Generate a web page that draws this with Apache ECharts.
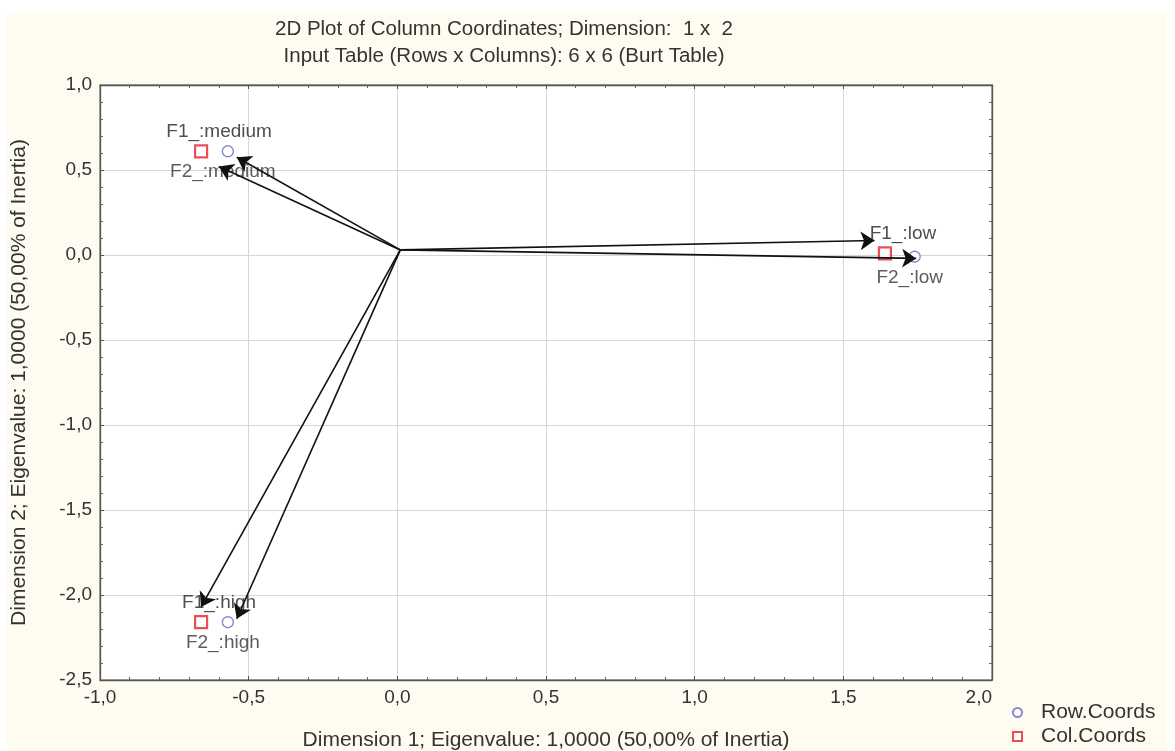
<!DOCTYPE html>
<html><head><meta charset="utf-8">
<script src="https://cdn.jsdelivr.net/npm/echarts@6/dist/echarts.min.js"></script>
<style>html,body{margin:0;padding:0;background:#fff}#c{width:1175px;height:751px}</style>
</head><body><div id="c"></div>
<script>
// Data
const colNames = ['F1_:medium', 'F1_:low', 'F1_:high'];
const colX = [-0.66, 1.64, -0.66];
const colY = [0.61, 0.01, -2.16];
const rowNames = ['F2_:medium', 'F2_:low', 'F2_:high'];
const rowX = [-0.57, 1.74, -0.57];
const rowY = [0.61, -0.01, -2.16];
const arrowOrigin = [0.01, 0.03];
const arrowEndX = [-0.54, -0.60, 1.605, 1.745, -0.66, -0.54];
const arrowEndY = [0.575, 0.52, 0.085, -0.02, -2.07, -2.14];
const xTicks = [-1.0, -0.5, 0.0, 0.5, 1.0, 1.5, 2.0];
const yTicks = [-2.5, -2.0, -1.5, -1.0, -0.5, 0.0, 0.5, 1.0];
const legendNames = ['Row.Coords', 'Col.Coords'];

const fmt = v => v.toFixed(1).replace('.', ',');
const FONT = '"Liberation Sans", Arial, sans-serif';
const chart = echarts.init(document.getElementById('c'), null, {renderer: 'canvas'});

const axisCommon = {
  type: 'value',
  axisLine: {show: true, onZero: false, lineStyle: {color: '#555', width: 1.3}},
  axisTick: {show: true, inside: true, length: 4, lineStyle: {color: '#555'}},
  minorTick: {show: true, splitNumber: 5, length: 3, lineStyle: {color: '#666'}},
  axisLabel: {color: '#333', fontSize: 19, fontFamily: FONT, formatter: fmt, margin: 8},
  nameTextStyle: {color: '#333', fontSize: 21, fontFamily: FONT}
};

const legendCommon = {
  orient: 'vertical', left: 1012, padding: 0, itemWidth: 9, itemHeight: 9,
  textStyle: {color: '#333', fontSize: 21, fontFamily: FONT, padding: [0, 0, 0, 14]}
};

chart.setOption({
  backgroundColor: '#fff',
  animation: false,
  graphic: [{type: 'rect', z: -10, shape: {x: 7, y: 12, width: 1160, height: 739}, style: {fill: '#fefbf0'}}],
  title: {
    text: '2D Plot of Column Coordinates; Dimension:  1 x  2\nInput Table (Rows x Columns): 6 x 6 (Burt Table)',
    left: 499, top: 11, textAlign: 'center',
    textStyle: {color: '#333', fontSize: 20.5, fontWeight: 'normal', fontFamily: FONT, lineHeight: 27}
  },
  legend: [
    Object.assign({}, legendCommon, {top: 702, data: [legendNames[0]]}),
    Object.assign({}, legendCommon, {top: 726, data: [legendNames[1]]})
  ],
  grid: {left: 100, right: 183, top: 85, bottom: 71, outerBoundsMode: 'none', containLabel: false,
    show: true, backgroundColor: '#fff', borderColor: '#555', borderWidth: 1},
  xAxis: [
    Object.assign({}, axisCommon, {
      min: xTicks[0], max: xTicks[xTicks.length - 1], interval: 0.5, position: 'bottom',
      name: 'Dimension 1; Eigenvalue: 1,0000 (50,00% of Inertia)', nameLocation: 'middle', nameGap: 50,
      axisLabel: Object.assign({}, axisCommon.axisLabel, {alignMaxLabel: 'right'}),
      splitLine: {show: true, lineStyle: {color: '#d6d6d6'}}
    }),
    Object.assign({}, axisCommon, {
      min: xTicks[0], max: xTicks[xTicks.length - 1], interval: 0.5, position: 'top',
      axisLabel: {show: false}, splitLine: {show: false}
    })
  ],
  yAxis: [
    Object.assign({}, axisCommon, {
      min: yTicks[0], max: yTicks[yTicks.length - 1], interval: 0.5, position: 'left',
      name: 'Dimension 2; Eigenvalue: 1,0000 (50,00% of Inertia)', nameLocation: 'middle', nameGap: 70,
      splitLine: {show: true, lineStyle: {color: '#d6d6d6'}}
    }),
    Object.assign({}, axisCommon, {
      min: yTicks[0], max: yTicks[yTicks.length - 1], interval: 0.5, position: 'right',
      axisLabel: {show: false}, splitLine: {show: false}
    })
  ],
  series: [
    {
      type: 'lines', coordinateSystem: 'cartesian2d', xAxisIndex: 0, yAxisIndex: 0, z: 5,
      symbol: ['none', 'arrow'], symbolSize: 14,
      lineStyle: {color: '#111', width: 1.6, opacity: 1},
      data: arrowEndX.map((x, i) => ({coords: [arrowOrigin, [x, arrowEndY[i]]]}))
    },
    {
      name: legendNames[0], type: 'scatter', symbol: 'circle', symbolSize: 11, z: 3,
      itemStyle: {color: '#fff', borderColor: '#6a6ac8', borderWidth: 1.4},
      label: {show: true, position: 'bottom', distance: 5, offset: [-5, 0], formatter: p => rowNames[p.dataIndex],
        color: '#333', fontSize: 19, fontFamily: FONT},
      data: rowX.map((x, i) => [x, rowY[i]])
    },
    {
      name: legendNames[1], type: 'scatter', symbol: 'rect', symbolSize: 12, z: 3,
      itemStyle: {color: '#fff', borderColor: '#e8202a', borderWidth: 2.2},
      label: {show: true, position: 'top', distance: 3, offset: [18, 0], formatter: p => colNames[p.dataIndex],
        color: '#222', fontSize: 19, fontFamily: FONT},
      data: colX.map((x, i) => [x, colY[i]])
    }
  ]
});
</script></body></html>
